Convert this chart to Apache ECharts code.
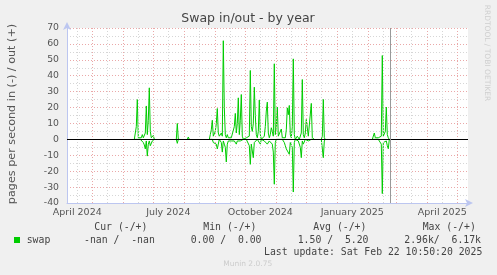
<!DOCTYPE html>
<html><head><meta charset="utf-8">
<script src="https://cdn.jsdelivr.net/npm/echarts@6/dist/echarts.min.js"></script>
<style>html,body{margin:0;padding:0;background:#f0f0f0}#c{width:497px;height:275px}</style>
</head><body><div id="c"></div>
<script>
// ---- data (daily values, pages per second) ----
const segStarts = ['2024-06-12', '2024-07-24', '2024-08-04', '2024-08-26', '2024-12-16', '2025-02-05'];
const outSeg1 = [0, 1, 8, 25, 1, 0, 2, 1, 3, 1, 2, 4, 21, 3, 12, 32.4, 5, 1, 1, 2.5, 0];
const inSeg1  = [0, 0, 0, 0, 0, 0, 0, 0, 1, 2, 3.5, 6, 1, 10.5, 3, 1, 4, 5.2, 1, 0, 0];
const outSeg2 = [0, 10, 0, 0];
const inSeg2  = [0, 2.5, 0, 0];
const outSeg3 = [0, 1.5, 0];
const inSeg3  = [0, 0, 0];
const outSeg4 = [0, 3, 6, 12, 2, 1, 5, 10, 19.4, 4, 2, 3, 4, 2, 62, 20, 3, 1, 3, 1, 0, 0, 1, 2, 0, 8, 16.3, 4, 10, 26.1,
  3, 12, 28.2, 2, 0, 0, 0, 1, 1, 1, 2, 43.3, 8, 5, 10, 32.8, 15, 3, 1, 5, 24.7, 3, 0, 0, 0, 2, 8, 17.8, 23.4, 4,
  1, 3, 7.3, 5, 2, 47.5, 3, 8, 20.3, 2, 1, 3, 6.5, 1, 0, 0, 1, 6, 19.8, 15.5, 21.3, 3, 1, 8, 50.6, 3, 0, 1, 2, 3,
  0, 1, 4, 37.6, 3, 1, 4, 12.5, 13, 2, 1, 3, 22.6, 1, 2, 0];
const inSeg4  = [0, 0, 1, 0, 2, 1, 1, 3, 6, 3, 0, 1, 2, 8, 1, 3, 5, 14.2, 3, 1, 0, 0, 1, 1, 2, 1, 2, 3, 1, 2,
  2, 1, 1, 1, 0, 0, 0, 0, 1, 0, 4, 15.7, 3, 4, 11.5, 2, 3, 1, 0, 0, 1, 3, 0, 0, 0, 1, 1, 0, 3, 2,
  1, 0, 0, 3, 8, 28.2, 2, 0, 1, 1, 0, 0, 1, 0, 1, 2, 4, 6, 7, 5, 9.4, 2, 1, 5, 33.1, 2, 0, 1, 0, 1,
  2, 5, 11.5, 1, 3, 2, 0, 1, 1, 1, 2, 0, 0, 0, 0, 0];
const outSeg5 = [0, 2, 25.1, 1, 0];
const inSeg5  = [0, 1, 11.5, 1, 0];
const outSeg6 = [0, 1, 4, 1, 0, 1, 1, 0, 1, 2, 52.7, 2, 1, 5, 20.3, 3, 1, 0];
const inSeg6  = [0, 0, 1, 0, 0, 0, 0, 0, 0, 3, 34.1, 2, 1, 3, 1, 4, 5.9, 0];

const yTicks = [-40, -30, -20, -10, 0, 10, 20, 30, 40, 50, 60, 70];
const monthStarts = ['2024-05-01','2024-06-01','2024-07-01','2024-08-01','2024-09-01','2024-10-01','2024-11-01',
  '2024-12-01','2025-01-01','2025-02-01','2025-03-01','2025-04-01','2025-05-01'];
const midMonths = ['2024-04-16','2024-05-16','2024-06-16','2024-07-16','2024-08-16','2024-09-16','2024-10-16',
  '2024-11-16','2024-12-16','2025-01-16','2025-02-16','2025-03-16','2025-04-16'];
const xLabelDates = ['2024-04-16', '2024-07-16', '2024-10-16', '2025-01-16', '2025-04-16'];
const xLabelTexts = ['April 2024', 'July 2024', 'October 2024', 'January 2025', 'April 2025'];
const lastUpdate = Date.UTC(2025, 1, 22, 10, 50, 20);

const DAY = 86400000;
const xMin = Date.UTC(2024, 3, 5, 16, 48);
const xMax = xMin + 401 * DAY;

const outSegs = [outSeg1, outSeg2, outSeg3, outSeg4, outSeg5, outSeg6];
const inSegs = [inSeg1, inSeg2, inSeg3, inSeg4, inSeg5, inSeg6];
function build(segs, sign) {
  const res = [];
  segs.forEach((vals, k) => {
    const t0 = Date.parse(segStarts[k]);
    vals.forEach((v, i) => res.push([t0 + i * DAY, sign * v]));
    res.push([t0 + vals.length * DAY, null]);
  });
  return res;
}
const outData = build(outSegs, 1);
const inData = build(inSegs, -1);

const chart = echarts.init(document.getElementById('c'), null, {renderer: 'canvas'});
const FONT = 'DejaVu Sans';
const MONO = 'DejaVu Sans Mono';
const TXT = '#444';

const texts = [];
function t(text, x, y, opts) {
  texts.push({type: 'text', x: x, y: y, silent: true,
    style: Object.assign({text: text, fill: TXT, font: '9.8px "' + MONO + '"', textVerticalAlign: 'middle'}, opts || {})});
}
t('Cur (-/+)', 94.3, 227.5); t('Min (-/+)', 203.3, 227.5); t('Avg (-/+)', 313.3, 227.5); t('Max (-/+)', 422.7, 227.5);
t('swap', 26.7, 240.2); t('-nan /  -nan', 84, 240.2); t('0.00 /  0.00', 190.7, 240.2);
t('1.50 /  5.20', 297.7, 240.2); t('2.96k/  6.17k', 404.3, 240.2);
t('Last update: Sat Feb 22 10:50:20 2025', 482.3, 252, {textAlign: 'right'});

const baseGraphic = [
  {type: 'text', x: 248, y: 19, silent: true,
    style: {text: 'Swap in/out - by year', fill: TXT, font: '12.5px "' + FONT + '"', textAlign: 'center', textVerticalAlign: 'middle'}},
  {type: 'text', x: 11.7, y: 114, rotation: Math.PI / 2, silent: true,
    style: {text: 'pages per second in (-) / out (+)', fill: '#555', font: '11.2px "' + FONT + '"', textAlign: 'center', textVerticalAlign: 'middle'}},
  {type: 'text', x: 486.5, y: 53, rotation: -Math.PI / 2, silent: true,
    style: {text: 'RRDTOOL / TOBI OETIKER', fill: '#cfcfcf', font: '7.5px "' + FONT + '"', textAlign: 'center', textVerticalAlign: 'middle'}},
  {type: 'rect', shape: {x: 14, y: 237, width: 6, height: 6}, silent: true, style: {fill: '#00cc00'}},
  {type: 'text', x: 247.7, y: 264.5, silent: true,
    style: {text: 'Munin 2.0.75', fill: '#cccccc', font: '7.5px "' + FONT + '"', textAlign: 'center', textVerticalAlign: 'middle'}}
].concat(texts);

chart.setOption({
  animation: false,
  backgroundColor: '#f0f0f0',
  grid: {left: 67, right: 29, top: 28, bottom: 72, show: true, backgroundColor: '#ffffff', borderWidth: 0},
  xAxis: {
    type: 'value', min: xMin, max: xMax, scale: true,
    axisLine: {show: true, onZero: false, lineStyle: {color: '#bcc6f0', width: 1},
      symbol: ['none', 'arrow'], symbolSize: [6, 8], symbolOffset: [0, 5]},
    axisTick: {show: false},
    splitLine: {show: false},
    axisLabel: {show: false}
  },
  yAxis: {
    type: 'value', min: yTicks[0], max: yTicks[yTicks.length - 1], interval: 10,
    axisLine: {show: true, lineStyle: {color: '#bcc6f0', width: 1},
      symbol: ['none', 'arrow'], symbolSize: [6, 8], symbolOffset: [0, 6]},
    axisTick: {show: false},
    axisLabel: {color: '#555', fontFamily: FONT, fontSize: 9.3, margin: 8},
    splitLine: {show: true, lineStyle: {color: '#eaa8a8', type: [1, 2], width: 1}},
    minorTick: {show: false, splitNumber: 2},
    minorSplitLine: {show: true, lineStyle: {color: '#d6d6d6', type: [1, 2], width: 1}}
  },
  series: [
    {
      type: 'line', z: 1, data: [[xMin, null]], silent: true, showSymbol: false,
      markLine: {
        silent: true, symbol: ['none', 'none'], label: {show: false}, animation: false,
        lineStyle: {color: '#d6d6d6', type: [1, 2], width: 1},
        data: midMonths.map(d => ({xAxis: Date.parse(d)}))
      }
    },
    {
      type: 'line', z: 1, data: [[xMin, null]], silent: true, showSymbol: false,
      markLine: {
        silent: true, symbol: ['none', 'none'], label: {show: false}, animation: false,
        lineStyle: {color: '#eaa8a8', type: [1, 2], width: 1},
        data: monthStarts.map(d => ({xAxis: Date.parse(d)}))
      }
    },
    {
      name: 'swap out', type: 'line', z: 3, data: outData, showSymbol: false, connectNulls: false,
      lineStyle: {color: '#00cc00', width: 1}, itemStyle: {color: '#00cc00'}
    },
    {
      name: 'swap in', type: 'line', z: 3, data: inData, showSymbol: false, connectNulls: false,
      lineStyle: {color: '#00cc00', width: 1}, itemStyle: {color: '#00cc00'}
    },
    {
      type: 'line', z: 5, data: [[xMin, null]], silent: true, showSymbol: false,
      markLine: {
        silent: true, symbol: ['none', 'none'], label: {show: false}, animation: false,
        data: [
          {yAxis: 0, lineStyle: {color: '#000000', type: 'solid', width: 1}},
          {xAxis: lastUpdate, lineStyle: {color: '#999999', type: 'solid', width: 1}}
        ]
      }
    }
  ],
  graphic: baseGraphic
});

// x tick labels placed through the axis scale
const axisY = chart.convertToPixel({yAxisIndex: 0}, yTicks[0]);
const xLabels = xLabelDates.map((d, i) => ({
  type: 'text', silent: true,
  x: chart.convertToPixel({xAxisIndex: 0}, Date.parse(d)), y: axisY + 9.5,
  style: {text: xLabelTexts[i], fill: '#555', font: '9.5px "' + FONT + '"', textAlign: 'center', textVerticalAlign: 'middle'}
}));
chart.setOption({graphic: baseGraphic.concat(xLabels)});
</script></body></html>
